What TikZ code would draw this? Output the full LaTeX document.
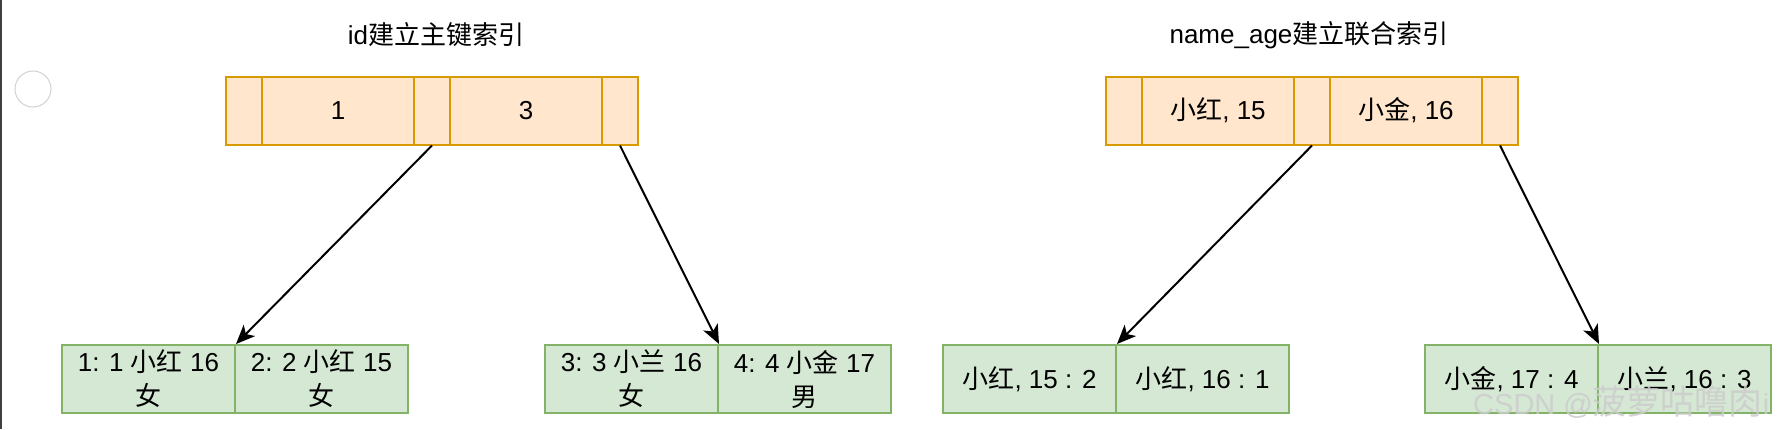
\documentclass[tikz,border=0pt]{standalone}
\usepackage{fontspec}
\setmainfont{Liberation Sans}
\newfontfamily\cjk{Noto Sans CJK SC}
\usetikzlibrary{arrows.meta}
\definecolor{ofill}{HTML}{FFE6CC}
\definecolor{odraw}{HTML}{D79B00}
\definecolor{gfill}{HTML}{D5E8D4}
\definecolor{gdraw}{HTML}{82B366}
\begin{document}
\begin{tikzpicture}[x=1pt,y=-1pt,
  ocell/.style={draw=odraw, fill=ofill, line width=2pt, minimum height=68pt, inner sep=0pt, font=\fontsize{26}{32}\selectfont},
  owide/.style={ocell, minimum width=152pt},
  onarrow/.style={ocell, minimum width=36pt},
  gcell/.style={draw=gdraw, fill=gfill, line width=2pt, minimum width=173pt, minimum height=68pt, inner sep=0pt, align=center, font=\fontsize{26}{34}\selectfont},
  titletext/.style={font=\fontsize{26}{32}\selectfont, inner sep=0pt},
  link/.style={line width=2pt, -{Stealth[length=19pt,width=16pt,inset=5pt]}}
]
\useasboundingbox (0,0) rectangle (1788,429);
\fill[white] (0,0) rectangle (1788,429);
\draw[line width=2pt, black!75] (1,0) -- (1,429);

\node[circle, draw=gray!35, line width=1pt, minimum size=36pt, inner sep=0pt] (dot) at (33,89) {};

% titles
\node[titletext] (t1) at (436,35) {id{\cjk 建立主键索引}};
\node[titletext] (t2) at (1309,35) {name\_age{\cjk 建立联合索引}};

% top index 1
\node[onarrow] (a1) at (244,110.5) {};
\node[owide]   (k1) at (338,110.5) {1};
\node[onarrow] (a2) at (432,110.5) {};
\node[owide]   (k3) at (526,110.5) {3};
\node[onarrow] (a3) at (620,110.5) {};

% top index 2
\node[onarrow] (c1) at (1124,110.5) {};
\node[owide]   (n1) at (1218,110.5) {{\cjk 小红}, 15};
\node[onarrow] (c2) at (1312,110.5) {};
\node[owide]   (n2) at (1406,110.5) {{\cjk 小金}, 16};
\node[onarrow] (c3) at (1500,110.5) {};

% leaves, primary key
\node[gcell] (l1) at (148.5,379) {1: 1 {\cjk 小红} 16\\{\cjk 女}};
\node[gcell] (l2) at (321.5,379) {2: 2 {\cjk 小红} 15\\{\cjk 女}};
\node[gcell] (l3) at (631.5,379) {3: 3 {\cjk 小兰} 16\\{\cjk 女}};
\node[gcell] (l4) at (804.5,379) {4: 4 {\cjk 小金} 17\\{\cjk 男}};

% leaves, composite index
\node[gcell] (m1) at (1029.5,379) {{\cjk 小红}, 15 : 2};
\node[gcell] (m2) at (1202.5,379) {{\cjk 小红}, 16 : 1};
\node[gcell] (m3) at (1511.5,379) {{\cjk 小金}, 17 : 4};
\node[gcell] (m4) at (1684.5,379) {{\cjk 小兰}, 16 : 3};

% connectors
\draw[link] (a2.south) -- (l1.north east);
\draw[link] (a3.south) -- (l3.north east);
\draw[link] (c2.south) -- (m1.north east);
\draw[link] (c3.south) -- (m3.north east);

% watermark
\node[anchor=west, inner sep=0pt, text=gray!40, opacity=0.85, font=\fontsize{29}{32}\selectfont] (wm) at (1473,402) {CSDN @{\cjk\fontsize{34}{36}\selectfont 菠萝咕噜肉}i};
\end{tikzpicture}
\end{document}
